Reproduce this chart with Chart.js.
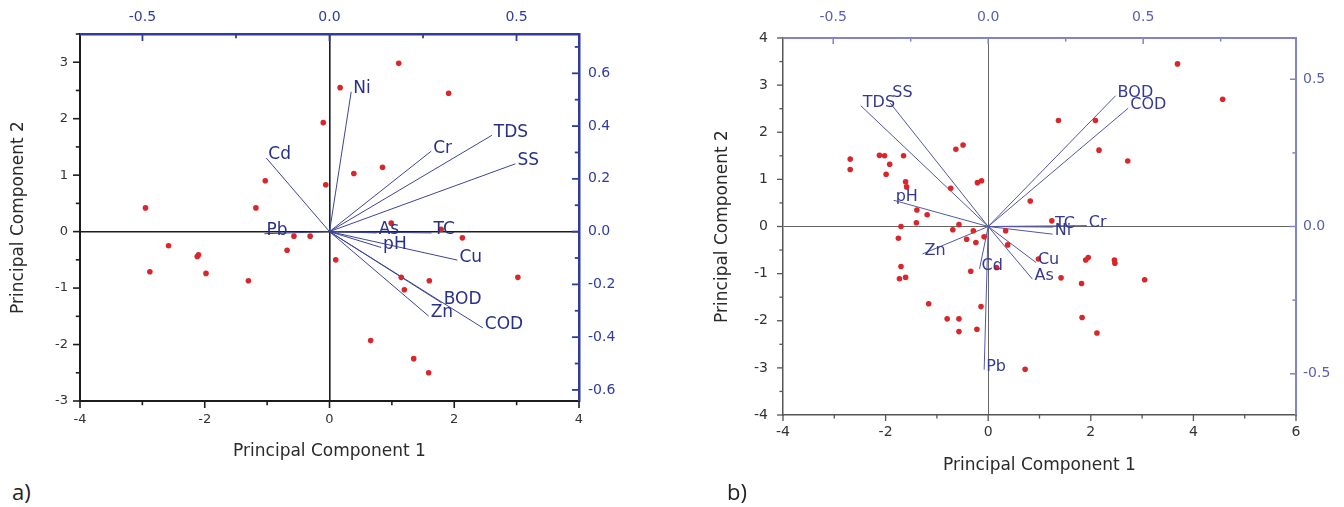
<!DOCTYPE html>
<html>
<head>
<meta charset="utf-8">
<script src="https://cdn.jsdelivr.net/npm/chart.js@4.4.1/dist/chart.umd.min.js"></script>
<style>
    html, body { margin: 0; padding: 0; background: #fff; }
    body { width: 1344px; height: 507px; position: relative; overflow: hidden; }
    canvas { position: absolute; top: 0; }
    #grafica_a { left: 0; }
    #grafica_b { left: 700px; }
    .panel { position: absolute; font-family: 'Open Sans', sans-serif; font-size: 22px; line-height: 30px; color: #222; }
</style>
</head>
<body>
<canvas id="grafica_a" width="660" height="470"></canvas>
<canvas id="grafica_b" width="644" height="480"></canvas>
<div class="panel" style="left:12px; top:476px;">a)</div>
<div class="panel" style="left:727px; top:476px;">b)</div>
<script>
/* panel a: sample scores on PC1 / PC2 */
const a_pc1 = [1.11, 0.17, 1.91, -0.10, 0.39, 0.85, -1.03, -0.06, -2.95, -1.18,
               0.99, 1.79, 2.13, -0.57, -0.31, -2.58, -0.68, -2.12, -2.10, 0.10,
               -2.88, -1.98, -1.30, 1.15, 1.60, 3.02, 1.20, 0.66, 1.35, 1.59];
const a_pc2 = [2.98, 2.55, 2.45, 1.93, 1.03, 1.14, 0.90, 0.83, 0.42, 0.42,
               0.15, 0.04, -0.11, -0.08, -0.08, -0.25, -0.33, -0.44, -0.41, -0.50,
               -0.71, -0.74, -0.87, -0.81, -0.87, -0.81, -1.03, -1.93, -2.25, -2.50];

/* panel a: variable loadings */
const a_vars  = ['Ni', 'Cd', 'Cr', 'TDS', 'SS', 'Pb', 'As', 'TC', 'pH', 'Cu', 'BOD', 'Zn', 'COD'];
const a_load1 = [0.058, -0.169, 0.272, 0.434, 0.497, -0.174, 0.126, 0.273, 0.138, 0.342, 0.300, 0.265, 0.410];
const a_load2 = [0.530, 0.279, 0.305, 0.365, 0.257, -0.008, -0.005, -0.005, -0.060, -0.108, -0.270, -0.320, -0.365];

/* panel a: tick labels */
const a_ticks_x  = [-4, -2, 0, 2, 4];
const a_ticks_y  = [-3, -2, -1, 0, 1, 2, 3];
const a_ticks_x2 = [-0.5, 0, 0.5];
const a_ticks_y2 = [-0.6, -0.4, -0.2, 0, 0.2, 0.4, 0.6];

/* panel b: sample scores */
const b_pc1 = [1.37, 2.09, 2.16, 2.72, 3.69, 4.57, -2.69, -2.69, -2.12, -2.02,
               -1.65, -1.92, -1.99, -1.61, -1.59, -0.63, -0.49, -0.73, -0.21, -0.13,
               0.82, -1.39, -1.19, -1.40, -1.70, -0.57, -0.69, -0.29, -1.75, -0.42,
               -0.24, -0.08, 0.34, 0.38, 1.24, 0.98, 1.42, 1.82, 1.90, 1.95,
               2.46, 2.47, 3.05, -1.70, -1.73, -1.61, -0.34, -1.16, -0.14, -0.80,
               -0.57, -0.57, -0.22, 1.83, 2.12, 0.72, 0.16];
const b_pc2 = [2.25, 2.25, 1.62, 1.39, 3.45, 2.70, 1.43, 1.21, 1.51, 1.50,
               1.50, 1.32, 1.11, 0.95, 0.84, 1.64, 1.73, 0.81, 0.93, 0.97,
               0.54, 0.35, 0.25, 0.08, 0.00, 0.04, -0.07, -0.09, -0.25, -0.27,
               -0.34, -0.22, -0.09, -0.39, 0.12, -0.69, -1.09, -1.21, -0.71, -0.66,
               -0.71, -0.78, -1.13, -0.85, -1.11, -1.08, -0.95, -1.64, -1.70, -1.96,
               -1.96, -2.23, -2.18, -1.93, -2.26, -3.03, -0.87];

/* panel b: variable loadings */
const b_vars  = ['TDS', 'SS', 'BOD', 'COD', 'pH', 'Zn', 'Cd', 'Pb', 'Cr', 'TC', 'Ni', 'Cu', 'As'];
const b_load1 = [-0.411, -0.316, 0.411, 0.452, -0.305, -0.212, -0.028, -0.013, 0.318, 0.209, 0.208, 0.154, 0.143];
const b_load2 = [0.410, 0.419, 0.444, 0.402, 0.089, -0.093, -0.144, -0.486, 0.003, -0.002, -0.026, -0.122, -0.179];

/* panel b: tick labels */
const b_ticks_x  = [-4, -2, 0, 2, 4, 6];
const b_ticks_y  = [-4, -3, -2, -1, 0, 1, 2, 3, 4];
const b_ticks_x2 = [-0.5, 0, 0.5];
const b_ticks_y2 = [-0.5, 0, 0.5];

const FUENTE = "'DejaVu Sans', sans-serif";

function es_marca(lista, v) {
    return lista.some(m => Math.abs(m - v) < 1e-6);
}

/* builds one linear axis; ticks are drawn by the plugin below */
function escala(pos, min, max, paso, etiquetas, e) {
    const horizontal = pos === 'top' || pos === 'bottom';
    return {
        type: 'linear',
        position: pos,
        min: min,
        max: max,
        afterFit: s => { if (horizontal) s.height = e.caja; else s.width = e.caja; },
        ticks: {
            stepSize: paso,
            includeBounds: false,
            autoSkip: false,
            maxRotation: 0,
            padding: e.pad,
            color: e.texto,
            font: { family: FUENTE, size: e.fuente },
            callback: v => es_marca(etiquetas, v) ? v.toFixed(e.dec) : ''
        },
        grid: {
            display: !!e.cruz,
            drawTicks: false,
            color: c => (c.tick && Math.abs(c.tick.value) < 1e-9) ? e.cruz : 'rgba(0,0,0,0)',
            lineWidth: e.cruz_ancho || 1
        },
        border: { display: true, color: e.eje, width: e.eje_ancho },
        title: e.titulo ? {
            display: true,
            text: e.titulo,
            color: '#2a2a2a',
            font: { family: FUENTE, size: 17 },
            padding: e.titulo_pad
        } : { display: false }
    };
}

/* draws major and minor tick marks on each side, in or out */
function plugin_marcas(estilos) {
    return {
        id: 'marcas',
        afterDraw(chart) {
            const ctx = chart.ctx, a = chart.chartArea;
            ctx.save();
            Object.keys(estilos).forEach(id => {
                const s = estilos[id], sc = chart.scales[id];
                ctx.strokeStyle = s.color;
                ctx.lineWidth = s.ancho;
                sc.ticks.forEach(t => {
                    const p = sc.getPixelForValue(t.value);
                    const len = (es_marca(s.mayores, t.value) ? s.largo : s.largo * 0.6) * s.dir;
                    ctx.beginPath();
                    if (sc.position === 'left')   { ctx.moveTo(a.left, p);   ctx.lineTo(a.left - len, p); }
                    if (sc.position === 'right')  { ctx.moveTo(a.right, p);  ctx.lineTo(a.right + len, p); }
                    if (sc.position === 'bottom') { ctx.moveTo(p, a.bottom); ctx.lineTo(p, a.bottom + len); }
                    if (sc.position === 'top')    { ctx.moveTo(p, a.top);    ctx.lineTo(p, a.top - len); }
                    ctx.stroke();
                });
            });
            ctx.restore();
        }
    };
}

/* writes the variable names at the tip of each loading vector */
function plugin_etiquetas(vars, l1, l2, fuente, color, ajuste) {
    return {
        id: 'etiquetas',
        afterDatasetsDraw(chart) {
            const ctx = chart.ctx, sx = chart.scales.x2, sy = chart.scales.y2;
            ctx.save();
            ctx.font = fuente;
            ctx.fillStyle = color;
            ctx.textAlign = 'left';
            ctx.textBaseline = 'middle';
            vars.forEach((v, i) => {
                const n = ajuste[v] || [0, 0];
                ctx.fillText(v, sx.getPixelForValue(l1[i]) + 2 + n[0], sy.getPixelForValue(l2[i]) - 3 + n[1]);
            });
            ctx.restore();
        }
    };
}

function crear_biplot(id, d) {
    const vectores = d.vars.map((v, i) => ({
        label: v,
        data: [{ x: 0, y: 0 }, { x: d.l1[i], y: d.l2[i] }],
        xAxisID: 'x2',
        yAxisID: 'y2',
        showLine: true,
        borderColor: d.vector,
        borderWidth: 1,
        pointRadius: 0,
        fill: false
    }));
    return new Chart(document.getElementById(id), {
        type: 'scatter',
        data: {
            datasets: [{
                label: 'scores',
                data: d.pc1.map((x, i) => ({ x: x, y: d.pc2[i] })),
                xAxisID: 'x',
                yAxisID: 'y',
                pointRadius: 2.8,
                pointBorderWidth: 0,
                backgroundColor: '#d8262b'
            }].concat(vectores)
        },
        options: {
            responsive: false,
            animation: false,
            devicePixelRatio: 1,
            events: [],
            layout: { padding: 0 },
            plugins: { legend: { display: false }, tooltip: { enabled: false } },
            scales: d.escalas
        },
        plugins: [plugin_marcas(d.marcas), plugin_etiquetas(d.vars, d.l1, d.l2, d.fuente_vec, d.color_vec, d.ajuste)]
    });
}

/* panel a */
const a_negro = '#1c1c1c', a_azul = '#2f3c9e';
crear_biplot('grafica_a', {
    pc1: a_pc1, pc2: a_pc2, vars: a_vars, l1: a_load1, l2: a_load2,
    vector: '#3c4597', color_vec: '#28308a', fuente_vec: "17px 'DejaVu Sans', sans-serif", ajuste: {},
    escalas: {
        x:  escala('bottom', -4, 4, 1, a_ticks_x, { caja: 69, pad: 11, texto: '#333', fuente: 13, dec: 0,
              eje: a_negro, eje_ancho: 2, cruz: a_negro, cruz_ancho: 1.6,
              titulo: 'Principal Component 1', titulo_pad: { top: 0, bottom: 8 } }),
        y:  escala('left', -3, 3.5, 0.5, a_ticks_y, { caja: 80, pad: 12, texto: '#333', fuente: 13, dec: 0,
              eje: a_negro, eje_ancho: 2, cruz: a_negro, cruz_ancho: 1.6,
              titulo: 'Principal Component 2', titulo_pad: { top: 8, bottom: 0 } }),
        x2: escala('top', -0.667, 0.667, 0.25, a_ticks_x2, { caja: 34, pad: 8, texto: a_azul, fuente: 14, dec: 1,
              eje: a_azul, eje_ancho: 2.5 }),
        y2: escala('right', -0.642, 0.749, 0.1, a_ticks_y2, { caja: 81, pad: 9, texto: a_azul, fuente: 14, dec: 1,
              eje: a_azul, eje_ancho: 2.5 })
    },
    marcas: {
        x:  { dir: 1,  largo: 7, color: a_negro, ancho: 1.6, mayores: a_ticks_x },
        y:  { dir: 1,  largo: 7, color: a_negro, ancho: 1.6, mayores: a_ticks_y },
        x2: { dir: -1, largo: 7, color: a_azul,  ancho: 1.8, mayores: a_ticks_x2 },
        y2: { dir: -1, largo: 7, color: a_azul,  ancho: 1.8, mayores: a_ticks_y2 }
    }
});

/* panel b */
const b_gris = '#555', b_lila = '#8084c8';
crear_biplot('grafica_b', {
    pc1: b_pc1, pc2: b_pc2, vars: b_vars, l1: b_load1, l2: b_load2,
    vector: '#5157a6', color_vec: '#343a92', fuente_vec: "16px 'DejaVu Sans', sans-serif", ajuste: { SS: [0, -7] },
    escalas: {
        x:  escala('bottom', -4, 6, 1, b_ticks_x, { caja: 65, pad: 9, texto: '#333', fuente: 14, dec: 0,
              eje: b_gris, eje_ancho: 1.5, cruz: '#666', cruz_ancho: 1,
              titulo: 'Principal Component 1', titulo_pad: { top: 0, bottom: 4 } }),
        y:  escala('left', -4, 4, 0.5, b_ticks_y, { caja: 83, pad: 15, texto: '#333', fuente: 14, dec: 0,
              eje: b_gris, eje_ancho: 1.5, cruz: '#666', cruz_ancho: 1,
              titulo: 'Principal Component 2', titulo_pad: { top: 12, bottom: 0 } }),
        x2: escala('top', -0.662, 0.993, 0.25, b_ticks_x2, { caja: 38, pad: 12, texto: '#5b5fae', fuente: 14, dec: 1,
              eje: b_lila, eje_ancho: 2 }),
        y2: escala('right', -0.64, 0.64, 0.25, b_ticks_y2, { caja: 48, pad: 7, texto: '#5b5fae', fuente: 14, dec: 1,
              eje: b_lila, eje_ancho: 2 })
    },
    marcas: {
        x:  { dir: 1,  largo: 6, color: b_gris, ancho: 1.3, mayores: b_ticks_x },
        y:  { dir: 1,  largo: 6, color: b_gris, ancho: 1.3, mayores: b_ticks_y },
        x2: { dir: -1, largo: 6, color: b_lila, ancho: 1.5, mayores: b_ticks_x2 },
        y2: { dir: -1, largo: 6, color: b_lila, ancho: 1.5, mayores: b_ticks_y2 }
    }
});
</script>
</body>
</html>
